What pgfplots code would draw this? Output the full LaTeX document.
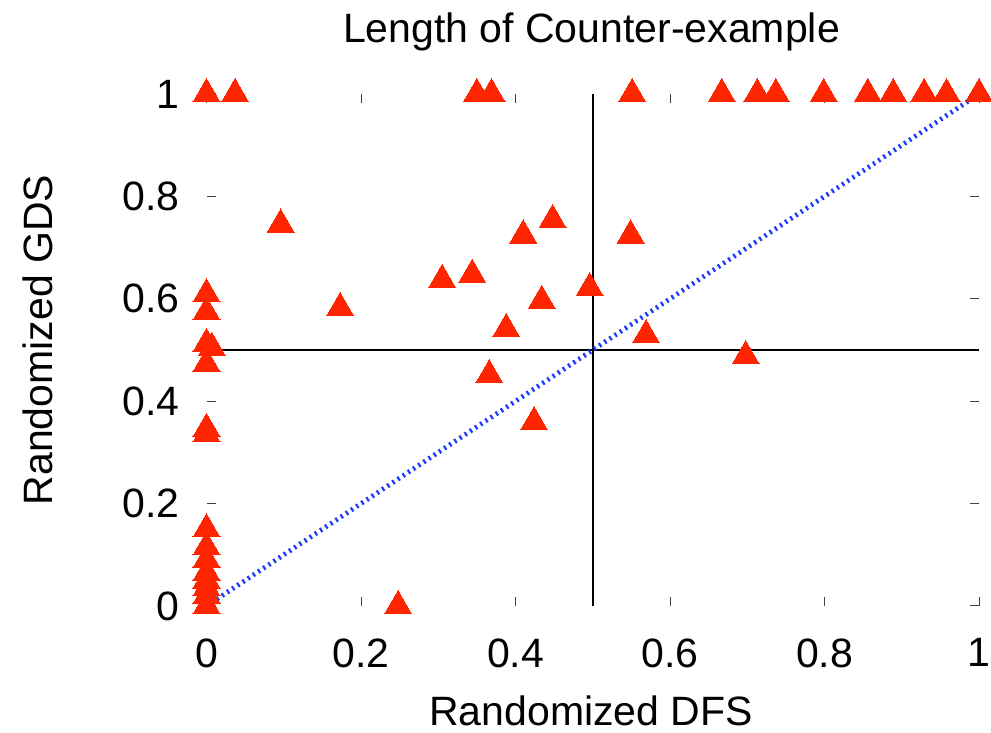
\documentclass[border=0pt]{standalone}
\usepackage{pgfplots}
\pgfplotsset{compat=1.18}
\usepackage{fontspec}
\setmainfont{Liberation Sans}
\definecolor{mkred}{RGB}{255,37,0}
\definecolor{lnblue}{RGB}{30,60,255}
\begin{document}
\fontsize{20.5}{24}\selectfont
\begin{tikzpicture}
\useasboundingbox (0,0) rectangle (495.5pt,366.5pt);
\begin{axis}[
  at={(103.25pt,63.5pt)}, anchor=south west,
  scale only axis, width=386.25pt, height=256pt,
  xmin=0,xmax=1,ymin=0,ymax=1,
  axis line style={draw=none},
  tick align=inside, tick pos=both,
  major tick length=4.5pt,
  tick style={black!75, line width=0.5pt},
  xtick={0,0.2,0.4,0.6,0.8,1}, ytick={0,0.2,0.4,0.6,0.8,1},
  /pgf/number format/assume math mode=true,
  ticklabel style={font=\fontsize{20.5}{24}\selectfont},
  xticklabel style={inner sep=0pt, anchor=north, yshift=-16pt},
  yticklabel style={inner sep=0pt, anchor=east, xshift=-13.25pt},
  clip=false,
]
\addplot[black, line width=1.25pt] coordinates {(0.5,0) (0.5,1)};
\addplot[black, line width=1.25pt] coordinates {(0,0.5) (1,0.5)};
\addplot[only marks, color=mkred, mark=triangle*, mark size=7.8pt, mark options={solid, draw=mkred, fill=mkred, line width=0pt}] coordinates {
(0,1) (0.037,1) (0.350,1) (0.369,1) (0.551,1) (0.667,1) (0.713,1) (0.737,1)
(0.799,1) (0.856,1) (0.889,1) (0.929,1) (0.958,1) (1,1)
(0.096,0.745) (0.448,0.754) (0.410,0.724) (0.549,0.724) (0.305,0.637) (0.344,0.647)
(0.173,0.582) (0.496,0.621) (0.434,0.596) (0.388,0.541) (0.569,0.529) (0.698,0.488)
(0.366,0.451) (0.424,0.359) (0.248,0)
(0,0.609) (0,0.574) (0,0.512) (0.007,0.504) (0,0.473) (0,0.346) (0,0.336)
(0,0.15) (0,0.115) (0,0.09) (0,0.065) (0,0.05) (0,0.035) (0,0.02) (0,0)
};
\addplot[lnblue, line width=2.4pt, dash pattern=on 1.1pt off 2pt] coordinates {(0,0) (1,1)};
\end{axis}
\node[anchor=base] at (295.75pt,345pt) {Length of Counter-example};
\node[anchor=base] at (295.5pt,3.5pt) {Randomized DFS};
\node[anchor=base, rotate=90] at (26pt,196.5pt) {Randomized GDS};
\end{tikzpicture}
\end{document}
